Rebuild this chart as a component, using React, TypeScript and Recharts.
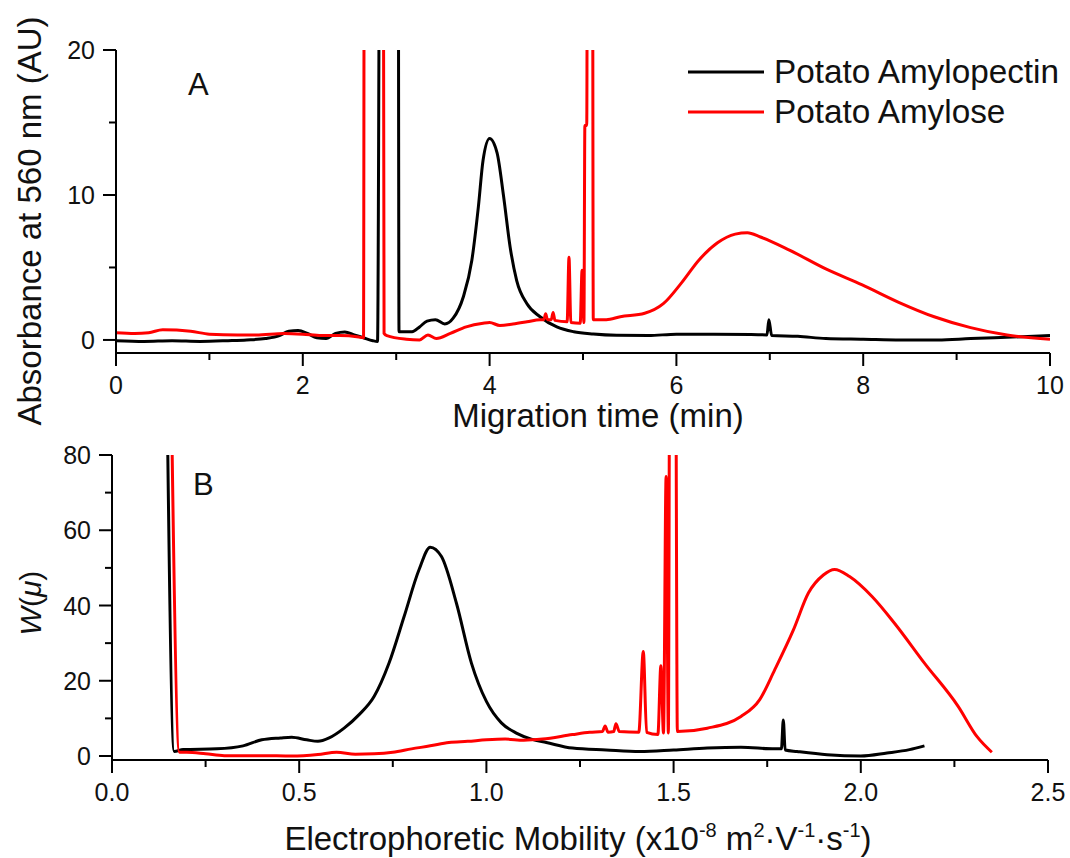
import React from "react";
import { Legend, Line, LineChart, XAxis, YAxis } from "recharts";

const FONT = '"Liberation Sans", Arial, sans-serif';

// Panel A: absorbance vs migration time
const apTime = [
	0, 0.3, 0.6, 0.9, 1.2, 1.4, 1.6, 1.75, 1.85, 1.95, 2.05, 2.15, 2.25, 2.35,
	2.45, 2.55, 2.65, 2.75, 2.8, 2.83, 3.02, 3.03, 3.17, 3.25, 3.33, 3.42, 3.52,
	3.61, 3.72, 3.81, 3.88, 3.93, 4.0, 4.08, 4.15, 4.22, 4.29, 4.4, 4.54, 4.72,
	4.9, 5.11, 5.36, 5.7, 6.0, 6.4, 6.8, 6.97, 6.99, 7.02, 7.3, 7.6, 8.0, 8.4,
	8.8, 9.15, 9.6, 10,
];
const apAbs = [
	-0.05, -0.1, -0.05, -0.1, -0.05, 0.0, 0.1, 0.3, 0.6, 0.65, 0.45, 0.15, 0.1,
	0.45, 0.55, 0.35, 0.15, -0.05, -0.1, 40, 40, 0.57, 0.57, 0.9, 1.3, 1.4, 1.1,
	1.5, 3.0, 5.5, 9.2, 12.4, 13.9, 12.9, 9.9, 6.4, 4.1, 2.5, 1.6, 0.9, 0.57,
	0.41, 0.32, 0.3, 0.4, 0.4, 0.38, 0.35, 1.4, 0.3, 0.25, 0.1, 0.05, 0.0, 0.0,
	0.1, 0.2, 0.3,
];

const amTime = [
	0, 0.2, 0.35, 0.5, 0.8, 1.0, 1.3, 1.5, 1.8, 2.0, 2.2, 2.4, 2.6, 2.65, 2.66,
	2.86, 2.87, 2.9, 3.11, 3.25, 3.34, 3.43, 3.58, 3.75, 3.93, 4.0, 4.11, 4.25,
	4.4, 4.54, 4.58, 4.6, 4.62, 4.66, 4.68, 4.7, 4.83, 4.85, 4.87, 4.97, 4.99,
	5.01, 5.02, 5.04, 5.05, 5.1, 5.11, 5.25, 5.4, 5.66, 5.86, 6.05, 6.24, 6.44,
	6.63, 6.76, 6.9, 7.21, 7.6, 7.99, 8.38, 8.76, 9.15, 9.54, 10,
];
const amAbs = [
	0.5, 0.45, 0.5, 0.7, 0.6, 0.4, 0.35, 0.35, 0.45, 0.4, 0.3, 0.3, 0.2, 0.15, 40,
	40, 0.45, 0.3, 0.05, 0.0, 0.34, 0.1, 0.45, 0.9, 1.15, 1.2, 1.0, 1.1, 1.25,
	1.4, 1.4, 1.8, 1.4, 1.4, 1.9, 1.35, 1.25, 5.7, 1.2, 1.15, 4.8, 1.2, 14.8,
	14.8, 40, 40, 1.4, 1.4, 1.6, 1.84, 2.5, 3.9, 5.5, 6.7, 7.3, 7.4, 7.1, 6.2,
	4.9, 3.8, 2.6, 1.6, 0.85, 0.34, 0.05,
];

// Panel B: W(mu) vs electrophoretic mobility
const apMu = [
	0.144, 0.166, 0.19, 0.28, 0.35, 0.4, 0.45, 0.48, 0.52, 0.55, 0.58, 0.62, 0.66,
	0.7, 0.74, 0.78, 0.82, 0.85, 0.88, 0.92, 0.96, 1.0, 1.04, 1.08, 1.12, 1.16,
	1.23, 1.32, 1.41, 1.5, 1.59, 1.68, 1.77, 1.788, 1.793, 1.798, 1.83, 1.91, 2.0,
	2.07, 2.13, 2.17,
];
const apW = [
	120, 1.2, 1.7, 1.9, 2.7, 4.3, 4.8, 5.0, 4.3, 3.9, 4.8, 7.4, 11, 15.8, 24.7, 37,
	49.5, 55.5, 53, 40.6, 24.7, 14.5, 8.8, 6.1, 4.5, 3.6, 2.1, 1.6, 1.2, 1.6, 2.1,
	2.3, 1.9, 1.9, 9.6, 1.6, 1.2, 0.35, 0.0, 0.8, 1.7, 2.7,
];

const amMu = [
	0.155, 0.18, 0.2, 0.25, 0.3, 0.4, 0.48, 0.55, 0.6, 0.65, 0.7, 0.75, 0.8, 0.85,
	0.9, 0.95, 1.0, 1.05, 1.1, 1.15, 1.23, 1.276, 1.31, 1.317, 1.325, 1.34, 1.346,
	1.355, 1.407, 1.419, 1.428, 1.458, 1.466, 1.473, 1.48, 1.486, 1.49, 1.505,
	1.51, 1.59, 1.68, 1.73, 1.77, 1.82, 1.86, 1.9, 1.93, 1.97, 2.03, 2.09, 2.17,
	2.26, 2.31, 2.35,
];
const amW = [
	120, 1.0, 1.0, 0.6, 0.1, 0.1, 0.0, 0.4, 1.0, 0.5, 0.6, 1.0, 1.9, 2.7, 3.6,
	3.9, 4.3, 4.5, 4.2, 4.5, 5.7, 6.3, 6.5, 8.0, 6.3, 6.5, 8.6, 6.5, 6.3, 27.8,
	6.3, 5.7, 24, 6.1, 74.3, 6.1, 120, 120, 6.5, 7.4, 10.5, 15, 22.9, 33.5, 43.3,
	48.1, 49.6, 47.7, 42.4, 35.3, 24.7, 13.2, 5.2, 1.0,
];

const timeTicks = [0, 1, 2, 3, 4, 5, 6, 7, 8, 9, 10];
const absTicks = [0, 5, 10, 15, 20];
const muTicks = [0, 0.25, 0.5, 0.75, 1, 1.25, 1.5, 1.75, 2, 2.25, 2.5];
const wTicks = [0, 10, 20, 30, 40, 50, 60, 70, 80];

const toPoints = (xs: number[], ys: number[]) =>
	xs.map((x, i) => ({ x, y: ys[i] }));

const panelA = {
	amylopectin: toPoints(apTime, apAbs),
	amylose: toPoints(amTime, amAbs),
};
const panelB = {
	amylopectin: toPoints(apMu, apW),
	amylose: toPoints(amMu, amW),
};

function XTick({ x, y, payload, isMajor, fmt }: any) {
	const major = isMajor(payload.value);
	return (
		<g>
			<line x1={x} x2={x} y1={y} y2={y + (major ? 13 : 7)} stroke="#000" strokeWidth={2} />
			{major && (
				<text x={x} y={y + 41} textAnchor="middle" fontSize={25} fontFamily={FONT} fill="#111">
					{fmt(payload.value)}
				</text>
			)}
		</g>
	);
}

function YTick({ x, y, payload, isMajor }: any) {
	const major = isMajor(payload.value);
	return (
		<g>
			<line x1={x} x2={x - (major ? 13 : 7)} y1={y} y2={y} stroke="#000" strokeWidth={2} />
			{major && (
				<text x={x - 21} y={y} dy="0.36em" textAnchor="end" fontSize={25} fontFamily={FONT} fill="#111">
					{payload.value}
				</text>
			)}
		</g>
	);
}

function LegendBox({ payload }: any) {
	return (
		<div style={{ fontFamily: FONT, fontSize: 33.3, color: "#111" }}>
			{(payload || []).map((p: any) => (
				<div key={p.value} style={{ display: "flex", alignItems: "center", height: 40 }}>
					<svg width={76} height={6} style={{ marginRight: 10 }}>
						<line x1={0} x2={76} y1={3} y2={3} stroke={p.color} strokeWidth={3} />
					</svg>
					<span style={{ lineHeight: "40px", whiteSpace: "nowrap" }}>{p.value}</span>
				</div>
			))}
		</div>
	);
}

const isEven = (v: number) => v % 2 === 0;
const isHalf = (v: number) => Math.abs(v * 2 - Math.round(v * 2)) < 1e-6;

const axisLine = { stroke: "#000", strokeWidth: 2 };

export default function App() {
	return (
		<div style={{ position: "absolute", left: 0, top: 0, width: 1070, height: 858, background: "#fff" }}>
			{/* Panel A */}
			<div style={{ position: "absolute", left: 0, top: 0 }}>
				<LineChart width={1070} height={430} margin={{ top: 50, right: 20, bottom: 76, left: 115 }}>
					<XAxis
						type="number"
						dataKey="x"
						domain={[0, 10]}
						ticks={timeTicks}
						allowDataOverflow
						height={1}
						tickSize={0}
						tickMargin={0}
						tickLine={false}
						axisLine={axisLine}
						interval={0}
						tick={(p: any) => <XTick {...p} isMajor={isEven} fmt={(v: number) => String(v)} />}
					/>
					<YAxis
						type="number"
						domain={[-0.9, 20]}
						ticks={absTicks}
						allowDataOverflow
						width={1}
						tickSize={0}
						tickMargin={0}
						tickLine={false}
						axisLine={axisLine}
						interval={0}
						tick={(p: any) => <YTick {...p} isMajor={(v: number) => v % 10 === 0} />}
					/>
					<Legend
						layout="vertical"
						align="center"
						verticalAlign="middle"
						content={<LegendBox />}
						wrapperStyle={{ left: 688, top: 52, width: 382, height: 80 }}
					/>
					<Line
						data={panelA.amylopectin}
						dataKey="y"
						name="Potato Amylopectin"
						type="monotone"
						stroke="#000000"
						strokeWidth={3}
						dot={false}
						isAnimationActive={false}
					/>
					<Line
						data={panelA.amylose}
						dataKey="y"
						name="Potato Amylose"
						type="monotone"
						stroke="#ff0000"
						strokeWidth={3}
						dot={false}
						isAnimationActive={false}
					/>
				</LineChart>
			</div>

			{/* Panel B */}
			<div style={{ position: "absolute", left: 0, top: 430 }}>
				<LineChart width={1070} height={428} margin={{ top: 25, right: 22, bottom: 97, left: 111 }}>
					<XAxis
						type="number"
						dataKey="x"
						domain={[0, 2.5]}
						ticks={muTicks}
						allowDataOverflow
						height={1}
						tickSize={0}
						tickMargin={0}
						tickLine={false}
						axisLine={axisLine}
						interval={0}
						tick={(p: any) => <XTick {...p} isMajor={isHalf} fmt={(v: number) => v.toFixed(1)} />}
					/>
					<YAxis
						type="number"
						domain={[-1.06, 80]}
						ticks={wTicks}
						allowDataOverflow
						width={1}
						tickSize={0}
						tickMargin={0}
						tickLine={false}
						axisLine={axisLine}
						interval={0}
						tick={(p: any) => <YTick {...p} isMajor={(v: number) => v % 20 === 0} />}
					/>
					<Line
						data={panelB.amylopectin}
						dataKey="y"
						name="Potato Amylopectin"
						type="monotone"
						stroke="#000000"
						strokeWidth={3}
						dot={false}
						isAnimationActive={false}
					/>
					<Line
						data={panelB.amylose}
						dataKey="y"
						name="Potato Amylose"
						type="monotone"
						stroke="#ff0000"
						strokeWidth={3}
						dot={false}
						isAnimationActive={false}
					/>
				</LineChart>
			</div>

			{/* titles and panel letters */}
			<svg
				width={1070}
				height={858}
				style={{ position: "absolute", left: 0, top: 0, pointerEvents: "none" }}
				fontFamily={FONT}
				fill="#111"
			>
				<text x={188} y={95} fontSize={31}>A</text>
				<text x={193} y={495} fontSize={31}>B</text>
				<text x={598} y={427} fontSize={33} textAnchor="middle">
					Migration time (min)
				</text>
				<text x={41} y={221} fontSize={33} textAnchor="middle" transform="rotate(-90 41 221)">
					Absorbance at 560 nm (AU)
				</text>
				<text x={41} y={603} fontSize={30} textAnchor="middle" transform="rotate(-90 41 603)">
					<tspan fontStyle="italic">W</tspan>
					<tspan>(</tspan>
					<tspan fontStyle="italic">μ</tspan>
					<tspan>)</tspan>
				</text>
				<text x={578} y={850} fontSize={33} textAnchor="middle">
					<tspan>Electrophoretic Mobility (x10</tspan>
					<tspan fontSize={20} dy={-13}>-8</tspan>
					<tspan dy={13}> m</tspan>
					<tspan fontSize={20} dy={-13}>2</tspan>
					<tspan dy={13}>·V</tspan>
					<tspan fontSize={20} dy={-13}>-1</tspan>
					<tspan dy={13}>·s</tspan>
					<tspan fontSize={20} dy={-13}>-1</tspan>
					<tspan dy={13}>)</tspan>
				</text>
			</svg>
		</div>
	);
}
